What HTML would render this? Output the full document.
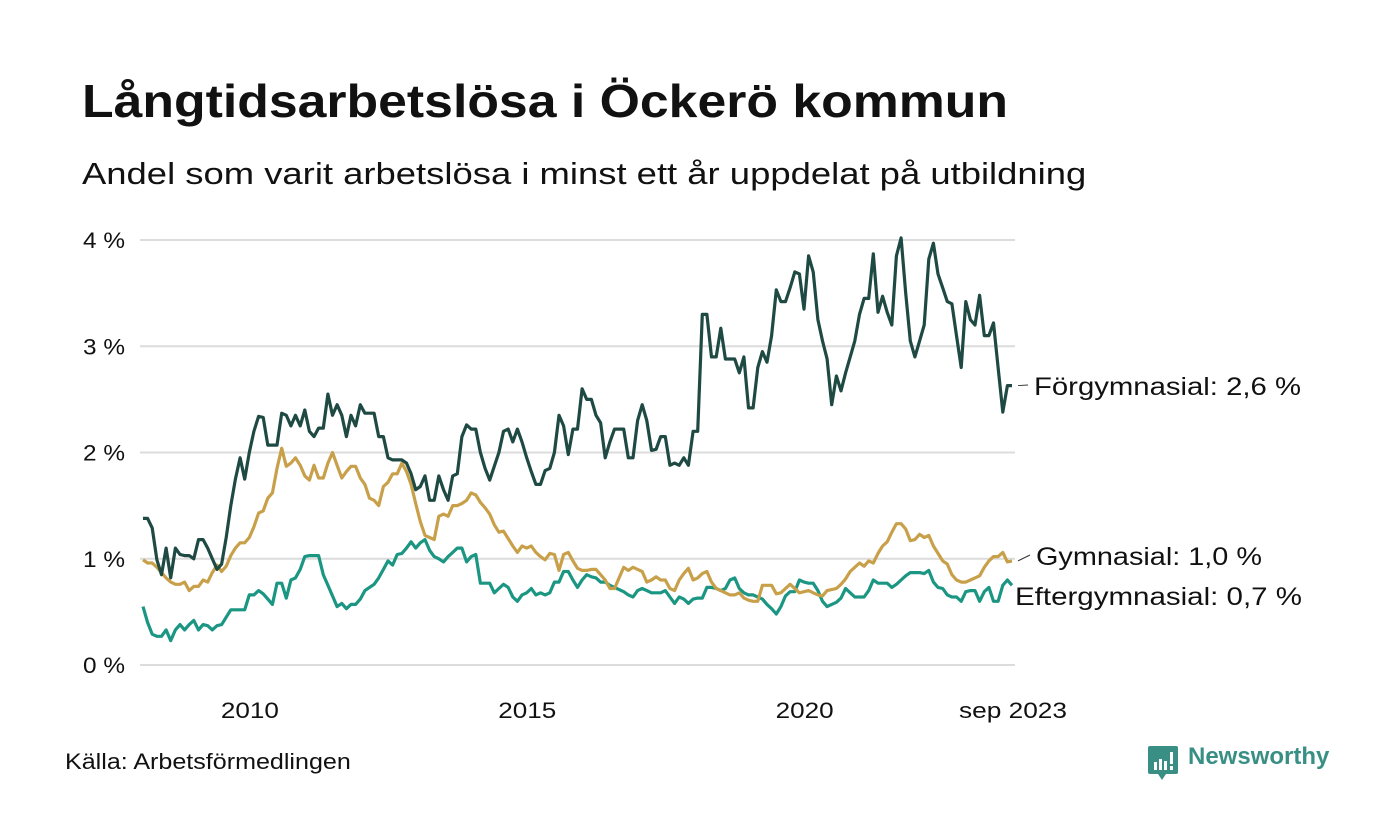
<!DOCTYPE html>
<html><head><meta charset="utf-8"><style>
body{margin:0;background:#fff;font-family:"Liberation Sans",sans-serif;}
#wrap{position:relative;width:1400px;height:840px;overflow:hidden;}
.t{position:absolute;white-space:nowrap;color:#111;transform-origin:0 0;}
</style></head><body>
<div id="wrap">
<div class="t" style="left:82px;top:74px;font-size:46px;font-weight:bold;transform:scaleX(1.125);">Långtidsarbetslösa i Öckerö kommun</div>
<div class="t" style="left:82px;top:156px;font-size:31px;transform:scaleX(1.175);">Andel som varit arbetslösa i minst ett år uppdelat på utbildning</div>
<svg id="chart" width="1400" height="840" style="position:absolute;left:0;top:0"></svg>
<div class="t" style="left:65px;top:749px;font-size:22px;transform:scaleX(1.14);">Källa: Arbetsförmedlingen</div>
<div style="position:absolute;left:1148px;top:744px;">
<svg width="32" height="36" style="position:absolute;left:0;top:2px"><path d="M2 0h26a2 2 0 0 1 2 2v24a2 2 0 0 1-2 2H18l-4 6-4-6H2a2 2 0 0 1-2-2V2a2 2 0 0 1 2-2z" fill="#3a8f85"/><rect x="6" y="16" width="3" height="8" fill="#fff"/><rect x="11" y="13" width="3" height="11" fill="#fff"/><rect x="16" y="15" width="3" height="9" fill="#fff"/><rect x="22" y="6" width="3" height="12" fill="#fff"/><rect x="22" y="20" width="3" height="4" fill="#fff"/></svg>
<div class="t" style="left:40px;top:-1px;font-size:24px;font-weight:bold;color:#3a8f85;">Newsworthy</div>
</div>
</div>
<script>
const yTicks=[0,1,2,3,4];
const yTickLabels=["0 %","1 %","2 %","3 %","4 %"];
const xTickMonths=[24,84,144,188];
const xTickLabels=["2010","2015","2020","sep 2023"];
const forgymnasial=[1.38,1.38,1.29,0.99,0.85,1.1,0.82,1.1,1.04,1.03,1.03,1.0,
1.18,1.18,1.1,1.0,0.9,0.95,1.2,1.5,1.75,1.95,1.75,2.0,
2.2,2.34,2.33,2.07,2.07,2.07,2.37,2.35,2.25,2.35,2.25,2.4,
2.2,2.15,2.23,2.23,2.55,2.35,2.45,2.35,2.15,2.35,2.25,2.45,
2.37,2.37,2.37,2.15,2.15,1.95,1.93,1.93,1.93,1.9,1.8,1.65,
1.68,1.78,1.55,1.55,1.78,1.65,1.55,1.78,1.8,2.15,2.26,2.22,
2.22,2.0,1.85,1.74,1.87,2.0,2.2,2.22,2.1,2.22,2.1,1.95,
1.82,1.7,1.7,1.83,1.85,2.0,2.35,2.25,1.98,2.22,2.22,2.6,
2.5,2.5,2.35,2.28,1.95,2.1,2.22,2.22,2.22,1.95,1.95,2.3,
2.45,2.3,2.02,2.03,2.15,2.15,1.88,1.9,1.88,1.95,1.88,2.2,
2.2,3.3,3.3,2.9,2.9,3.17,2.88,2.88,2.88,2.75,2.9,2.42,
2.42,2.8,2.95,2.85,3.1,3.53,3.42,3.42,3.55,3.7,3.68,3.35,
3.85,3.7,3.25,3.05,2.88,2.45,2.72,2.58,2.75,2.9,3.05,3.3,
3.45,3.45,3.87,3.32,3.47,3.32,3.2,3.85,4.02,3.5,3.05,2.9,
3.05,3.2,3.82,3.97,3.68,3.55,3.42,3.4,3.1,2.8,3.42,3.25,
3.2,3.48,3.1,3.1,3.22,2.8,2.38,2.63,2.63];
const gymnasial=[0.99,0.96,0.96,0.92,0.87,0.82,0.78,0.76,0.76,0.78,0.7,0.74,
0.74,0.8,0.78,0.87,0.94,0.88,0.93,1.03,1.1,1.15,1.15,1.2,
1.3,1.43,1.45,1.57,1.62,1.85,2.04,1.87,1.9,1.95,1.88,1.78,
1.74,1.88,1.76,1.76,1.9,2.0,1.88,1.76,1.82,1.87,1.87,1.76,
1.7,1.57,1.55,1.5,1.68,1.72,1.8,1.8,1.9,1.82,1.7,1.52,
1.35,1.22,1.2,1.18,1.4,1.42,1.4,1.5,1.5,1.52,1.55,1.62,
1.6,1.53,1.48,1.42,1.32,1.25,1.26,1.19,1.12,1.06,1.12,1.1,
1.12,1.06,1.02,0.99,1.05,1.04,0.89,1.04,1.06,0.98,0.91,0.89,
0.89,0.9,0.9,0.85,0.8,0.72,0.72,0.82,0.92,0.89,0.92,0.9,
0.88,0.78,0.8,0.83,0.8,0.8,0.72,0.7,0.8,0.86,0.91,0.8,
0.82,0.86,0.88,0.78,0.72,0.7,0.68,0.66,0.66,0.68,0.63,0.61,
0.6,0.6,0.75,0.75,0.75,0.67,0.68,0.72,0.76,0.72,0.68,0.69,
0.7,0.68,0.66,0.65,0.7,0.71,0.72,0.76,0.81,0.88,0.92,0.96,
0.93,0.98,0.96,1.05,1.12,1.16,1.25,1.33,1.33,1.28,1.17,1.18,
1.23,1.2,1.22,1.12,1.05,0.98,0.95,0.85,0.8,0.78,0.78,0.8,
0.82,0.84,0.92,0.98,1.02,1.02,1.06,0.97,0.98];
const eftergymnasial=[0.55,0.4,0.29,0.27,0.27,0.33,0.23,0.33,0.38,0.33,0.38,0.42,
0.33,0.38,0.37,0.33,0.37,0.38,0.45,0.52,0.52,0.52,0.52,0.66,
0.66,0.7,0.67,0.62,0.57,0.77,0.77,0.63,0.8,0.82,0.9,1.02,
1.03,1.03,1.03,0.85,0.75,0.65,0.55,0.58,0.53,0.57,0.57,0.62,
0.7,0.73,0.76,0.82,0.9,0.98,0.94,1.04,1.05,1.1,1.16,1.1,
1.15,1.18,1.08,1.02,1.0,0.97,1.02,1.06,1.1,1.1,0.97,1.02,
1.04,0.77,0.77,0.77,0.68,0.72,0.76,0.73,0.64,0.6,0.66,0.68,
0.72,0.66,0.68,0.66,0.68,0.78,0.78,0.88,0.88,0.8,0.73,0.8,
0.85,0.83,0.82,0.78,0.78,0.75,0.73,0.71,0.69,0.66,0.64,0.7,
0.72,0.7,0.68,0.68,0.68,0.7,0.64,0.58,0.64,0.62,0.58,0.62,
0.63,0.63,0.73,0.73,0.72,0.7,0.72,0.8,0.82,0.72,0.68,0.66,
0.66,0.64,0.62,0.57,0.53,0.48,0.55,0.65,0.69,0.69,0.8,0.78,
0.77,0.77,0.7,0.6,0.55,0.57,0.59,0.63,0.72,0.68,0.64,0.64,
0.64,0.7,0.8,0.77,0.77,0.77,0.73,0.76,0.8,0.84,0.87,0.87,
0.87,0.86,0.89,0.78,0.73,0.72,0.66,0.64,0.64,0.6,0.69,0.7,
0.7,0.6,0.69,0.73,0.6,0.6,0.75,0.8,0.75];
const seriesNames=["Förgymnasial: 2,6 %","Gymnasial: 1,0 %","Eftergymnasial: 0,7 %"];

const svg=document.getElementById('chart');
const NS='http://www.w3.org/2000/svg';
const X0=143,X1=1012,NM=188,Y0=665,PPU=106.25;
function xs(i){return X0+i*(X1-X0)/NM;}
function ys(v){return Y0-v*PPU;}
function mk(tag,attrs){const e=document.createElementNS(NS,tag);for(const k in attrs)e.setAttribute(k,attrs[k]);svg.appendChild(e);return e;}
yTicks.forEach((v,k)=>{
  const g=mk('line',{x1:140,x2:1015,y1:ys(v),y2:ys(v),stroke:'#dcdcdc','stroke-width':2});
  
  
  const t=mk('text',{x:125,y:ys(v)+8,'text-anchor':'end','font-size':22,fill:'#111','font-family':'Liberation Sans, sans-serif',textLength:42,lengthAdjust:'spacingAndGlyphs'});
  t.textContent=yTickLabels[k];
  
  
});
xTickMonths.forEach((m,k)=>{
  const t=mk('text',{x:xs(m)-4+(k==3?5:0),y:718,'text-anchor':'middle','font-size':22,fill:'#111','font-family':'Liberation Sans, sans-serif',textLength:(k==3?108:58),lengthAdjust:'spacingAndGlyphs'});
  t.textContent=xTickLabels[k];
  
  
});
function line(arr,color,name){
  const d=arr.map((v,i)=>(i?'L':'M')+xs(i).toFixed(1)+' '+ys(v).toFixed(1)).join('');
  const p=mk('path',{d:d,fill:'none',stroke:color,'stroke-width':3.2,'stroke-linejoin':'round'});
  
  
}
line(eftergymnasial,'#1a9683','line-eftergymnasial');
line(gymnasial,'#c9a04a','line-gymnasial');
line(forgymnasial,'#1f4a44','line-forgymnasial');
const labY=[386,556,596],labX=[1034,1036,1015],labW=[267,226,287];
[forgymnasial,gymnasial,eftergymnasial].forEach((arr,k)=>{
  const ly=ys(arr[arr.length-1]);
  if(k<2){const c=mk('line',{x1:1018,x2:labX[k]-6,y1:ly,y2:labY[k]-1,stroke:'#333','stroke-width':1});
  
  }
  const t=mk('text',{x:labX[k],y:labY[k]+9,'font-size':25,fill:'#111','font-family':'Liberation Sans, sans-serif',textLength:labW[k],lengthAdjust:'spacingAndGlyphs'});
  t.textContent=seriesNames[k];
  
  
});
</script>
</body></html>
